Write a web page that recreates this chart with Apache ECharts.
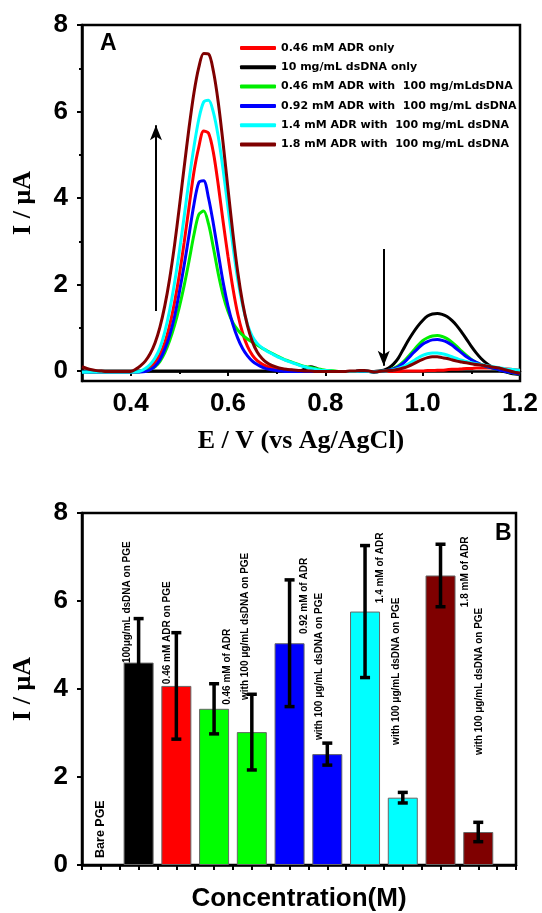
<!DOCTYPE html>
<html><head><meta charset="utf-8">
<script src="https://cdn.jsdelivr.net/npm/echarts@6/dist/echarts.min.js"></script>
<style>html,body{margin:0;padding:0;background:#fff}#c{width:542px;height:913px}</style>
</head><body><div id="c"></div>
<script>
// ---------- Panel A: DPV curves ----------
const potential = [0.30,0.31,0.32,0.33,0.34,0.35,0.36,0.37,0.38,0.39,
0.40,0.41,0.42,0.43,0.44,0.45,0.46,0.47,0.48,0.49,
0.50,0.51,0.52,0.53,0.54,0.55,0.56,0.57,0.58,0.59,
0.60,0.61,0.62,0.63,0.64,0.65,0.66,0.67,0.68,0.69,
0.70,0.71,0.72,0.73,0.74,0.75,0.76,0.77,0.78,0.79,
0.80,0.81,0.82,0.83,0.84,0.85,0.86,0.87,0.88,0.89,
0.90,0.91,0.92,0.93,0.94,0.95,0.96,0.97,0.98,0.99,
1.00,1.01,1.02,1.03,1.04,1.05,1.06,1.07,1.08,1.09,
1.10,1.11,1.12,1.13,1.14,1.15,1.16,1.17,1.18,1.19,
1.20];

const seriesNames = ['0.46 mM ADR only','10 mg/mL dsDNA only','0.46 mM ADR with  100 mg/mLdsDNA','0.92 mM ADR with  100 mg/mL dsDNA','1.4 mM ADR with  100 mg/mL dsDNA','1.8 mM ADR with  100 mg/mL dsDNA'];
const seriesColors = ['#ff0000','#000000','#00ee00','#0000ff','#00ffff','#7f0000'];

const adrOnly = [0.00,-0.01,-0.02,-0.02,-0.02,-0.02,-0.02,-0.02,-0.02,-0.02,
-0.02,-0.02,-0.01,0.03,0.09,0.20,0.38,0.65,1.05,1.58,
2.22,2.98,3.80,4.60,5.18,5.55,5.50,5.05,4.30,3.45,
2.65,1.92,1.32,0.88,0.57,0.37,0.24,0.16,0.11,0.08,
0.06,0.04,0.03,0.02,0.01,0.00,0.00,0.00,-0.01,-0.01,
-0.01,-0.01,-0.01,-0.01,-0.01,-0.01,-0.01,-0.01,-0.01,-0.01,
-0.01,-0.01,-0.01,-0.01,-0.01,-0.01,0.00,0.00,0.00,0.00,
0.00,0.01,0.01,0.02,0.02,0.03,0.04,0.04,0.05,0.06,
0.06,0.07,0.07,0.07,0.07,0.06,0.06,0.05,0.04,0.03,
0.02];
const dsdnaOnly = [0,0,0,0,0,0,0,0,0,0,
0,0,0,0,0,0,0,0,0,0,
0,0,0,0,0,0,0,0,0,0,
0,0,0,0,0,0,0,0,0,0,
0,0,0,0,0,0.01,0.06,0.10,0.07,0.02,
0,-0.01,-0.01,-0.01,-0.01,-0.01,-0.01,-0.01,-0.01,-0.01,
-0.01,0,0.02,0.07,0.16,0.30,0.50,0.70,0.88,1.04,
1.17,1.27,1.32,1.33,1.31,1.26,1.17,1.05,0.90,0.74,
0.57,0.42,0.29,0.19,0.11,0.05,0.01,-0.02,-0.05,-0.07,
-0.08];
const adr046Dna = [-0.02,-0.02,-0.02,-0.02,-0.02,-0.02,-0.02,-0.02,-0.02,-0.02,
-0.02,-0.02,-0.01,0.00,0.04,0.10,0.22,0.42,0.70,1.05,
1.48,1.98,2.55,3.15,3.62,3.70,3.40,2.85,2.25,1.75,
1.38,1.12,0.95,0.83,0.74,0.67,0.60,0.53,0.47,0.41,
0.35,0.30,0.25,0.21,0.17,0.13,0.10,0.08,0.06,0.04,
0.02,0.01,0.00,-0.01,-0.01,-0.01,-0.01,0.00,0.00,-0.01,
-0.02,-0.01,0.00,0.02,0.06,0.12,0.21,0.33,0.46,0.59,
0.70,0.77,0.81,0.82,0.80,0.75,0.67,0.57,0.46,0.36,
0.27,0.20,0.15,0.11,0.08,0.05,0.02,0.00,-0.03,-0.05,
-0.07];
const adr092Dna = [-0.02,-0.02,-0.02,-0.02,-0.02,-0.02,-0.02,-0.02,-0.02,-0.02,
-0.02,-0.02,-0.02,-0.01,0.03,0.11,0.26,0.50,0.82,1.25,
1.82,2.45,3.15,3.85,4.36,4.40,4.00,3.40,2.72,2.05,
1.50,1.08,0.76,0.52,0.35,0.23,0.15,0.09,0.05,0.03,
0.01,0.00,-0.01,-0.01,-0.01,-0.01,-0.01,-0.01,-0.01,-0.01,
-0.01,-0.01,-0.01,-0.01,-0.01,-0.01,-0.01,0.00,0.00,-0.01,
-0.02,-0.01,0.00,0.02,0.05,0.10,0.18,0.29,0.41,0.52,
0.62,0.68,0.72,0.73,0.71,0.67,0.60,0.51,0.42,0.33,
0.26,0.20,0.15,0.11,0.08,0.05,0.02,-0.01,-0.03,-0.05,
-0.07];
const adr14Dna = [-0.03,-0.02,-0.02,-0.02,-0.02,-0.02,-0.02,-0.02,-0.02,-0.02,
-0.02,-0.02,0.00,0.06,0.15,0.30,0.53,0.90,1.40,2.03,
2.76,3.58,4.42,5.18,5.82,6.22,6.26,5.98,5.42,4.65,
3.78,2.90,2.12,1.52,1.08,0.80,0.64,0.54,0.46,0.40,
0.34,0.29,0.24,0.20,0.16,0.12,0.09,0.06,0.04,0.02,
0.01,0.00,-0.01,-0.01,-0.01,-0.01,-0.01,0.00,0.00,-0.01,
-0.02,-0.01,0.00,0.01,0.03,0.06,0.10,0.16,0.23,0.30,
0.36,0.40,0.42,0.42,0.40,0.37,0.33,0.29,0.25,0.22,
0.19,0.17,0.15,0.13,0.11,0.09,0.07,0.05,0.04,0.03,
0.02];
const adr18Dna = [0.10,0.06,0.03,0.01,0.00,-0.01,-0.01,-0.01,-0.01,-0.01,
-0.01,0.04,0.12,0.23,0.40,0.65,1.01,1.50,2.13,2.90,
3.79,4.72,5.63,6.43,7.02,7.34,7.33,6.93,6.21,5.26,
4.21,3.19,2.29,1.58,1.05,0.68,0.44,0.29,0.19,0.13,
0.09,0.06,0.04,0.03,0.02,0.01,0.00,0.00,-0.01,-0.01,
-0.01,-0.01,-0.01,-0.01,-0.01,0.00,0.00,0.01,0.01,0.00,
-0.02,-0.01,0.00,0.01,0.02,0.04,0.07,0.11,0.16,0.22,
0.27,0.31,0.33,0.33,0.31,0.29,0.26,0.23,0.21,0.19,
0.17,0.15,0.14,0.12,0.10,0.08,0.06,0.03,0.00,-0.03,
-0.05];
const curves = [adrOnly, dsdnaOnly, adr046Dna, adr092Dna, adr14Dna, adr18Dna];

// arrows in panel A: [potential, from current, to current]
const arrowsA = [[0.452, 1.39, 5.68], [0.920, 2.82, 0.12]];
const ticksA_x = [0.4, 0.6, 0.8, 1.0, 1.2];
const minorA_x = [0.3, 0.5, 0.7, 0.9, 1.1];
const ticksA_y = [0, 2, 4, 6, 8];
const minorA_y = [1, 3, 5, 7];

// ---------- Panel B: bars ----------
const categories = ['Bare PGE','100μg/mL dsDNA on PGE','0.46 mM ADR on PGE','0.46 mM of ADR with 100 μg/mL dsDNA on PGE','0.92 mM of ADR','0.92 mM of ADR with 100 μg/mL dsDNA on PGE','1.4 mM of ADR','1.4 mM of ADR with 100 μg/mL dsDNA on PGE','1.8 mM of ADR','1.8 mM of ADR with 100 μg/mL dsDNA on PGE','extra'];
const barPositions = [1, 3, 5, 7, 9, 11, 13, 15, 17, 19, 21];
const barValues = [0, 4.60, 4.07, 3.55, 3.02, 5.04, 2.52, 5.76, 1.53, 6.58, 0.75];
const barErrors = [0, 1.00, 1.21, 0.57, 0.86, 1.44, 0.25, 1.50, 0.12, 0.71, 0.22];
const barColors = ['#ffffff','#000000','#ff0000','#00ff00','#00ff00','#0000ff','#0000ff','#00ffff','#00ffff','#7f0000','#7f0000'];

// bar annotation texts: [text, x anchor, y anchor (start of text)]
const barNotes = [
  ['Bare PGE', 1.0, 0.16],
  ['100μg/mL dsDNA on PGE', 2.39, 4.59],
  ['0.46 mM ADR on PGE', 4.50, 4.11],
  ['0.46 mM of ADR', 7.72, 3.64],
  ['with 100 μg/mL dsDNA on PGE', 8.64, 3.75],
  ['0.92 mM of ADR', 11.77, 5.25],
  ['with 100 μg/mL dsDNA on PGE', 12.59, 2.84],
  ['1.4 mM of ADR', 15.81, 5.95],
  ['with 100 μg/mL dsDNA on PGE', 16.64, 2.73],
  ['1.8 mM of ADR', 20.32, 5.86],
  ['with 100 μg/mL dsDNA on PGE', 21.05, 2.50]
];

const chart = echarts.init(document.getElementById('c'));
const axisLineStyle = {color:'#000', width:2.5};
const tickLabel = {color:'#000', fontFamily:'Liberation Sans', fontWeight:'bold', fontSize:26};
const serifName = {color:'#000', fontFamily:'Liberation Serif', fontWeight:'bold', fontSize:26};

const lineSeries = seriesNames.map((name, i) => ({
  name, type:'line', xAxisIndex:0, yAxisIndex:0,
  data: potential.map((e, j) => [e, curves[i][j]]),
  showSymbol:false, symbol:'none', smooth:0.3,
  lineStyle:{width:3, color:seriesColors[i]}, itemStyle:{color:seriesColors[i]},
  z: 3 + i, animation:false
}));
lineSeries[1].markLine = {
  silent:true, animation:false, symbol:['none','arrow'], symbolSize:[9,15],
  lineStyle:{color:'#000', width:2, type:'solid'}, label:{show:false},
  data: arrowsA.map(a => [{coord:[a[0], a[1]]}, {coord:[a[0], a[2]]}])
};

const option = {
  backgroundColor:'#fff',
  animation:false,
  title:[
    {text:'A', left:100, top:32, padding:0, textStyle:{fontSize:23, fontWeight:'bold', fontFamily:'Liberation Sans', color:'#000'}},
    {text:'B', left:495, top:522, padding:0, textStyle:{fontSize:23, fontWeight:'bold', fontFamily:'Liberation Sans', color:'#000'}}
  ],
  legend:{
    data:seriesNames, orient:'vertical', left:235, top:36, icon:'roundRect',
    itemWidth:36, itemHeight:4, itemGap:5.3, selectedMode:false,
    textStyle:{fontFamily:'DejaVu Sans', fontWeight:'bold', fontSize:11, color:'#000', lineHeight:14}
  },
  grid:[
    {left:82, top:25, width:438, height:356, show:true, borderColor:'#000', borderWidth:2.5, backgroundColor:'transparent'},
    {left:82, top:513, width:434, height:352, show:true, borderColor:'#000', borderWidth:2.5, backgroundColor:'transparent'}
  ],
  xAxis:[
    {gridIndex:0, type:'value', min:0.3, max:1.2,
     name:'E / V (vs Ag/AgCl)', nameLocation:'middle', nameGap:47, nameTextStyle:serifName,
     axisLine:{lineStyle:axisLineStyle}, splitLine:{show:false},
     axisTick:{customValues:ticksA_x, length:5, lineStyle:{width:2, color:'#000'}},
     axisLabel:{customValues:ticksA_x, margin:10, formatter:v => v.toFixed(1), ...tickLabel}},
    {gridIndex:0, type:'value', min:0.3, max:1.2, position:'bottom',
     axisLine:{show:false}, splitLine:{show:false}, axisLabel:{show:false},
     axisTick:{customValues:minorA_x, length:3, lineStyle:{width:2, color:'#000'}}},
    {gridIndex:1, type:'value', min:0, max:23, interval:1,
     name:'Concentration(M)', nameLocation:'middle', nameGap:21,
     nameTextStyle:{color:'#000', fontFamily:'Liberation Sans', fontWeight:'bold', fontSize:26},
     axisLine:{lineStyle:axisLineStyle}, splitLine:{show:false}, axisLabel:{show:false},
     axisTick:{length:5, lineStyle:{width:2, color:'#000'}}}
  ],
  yAxis:[
    {gridIndex:0, type:'value', min:-0.23, max:8,
     name:'I / μA', nameLocation:'middle', nameGap:46, nameTextStyle:serifName,
     axisLine:{lineStyle:axisLineStyle}, splitLine:{show:false},
     axisTick:{customValues:ticksA_y, length:5, lineStyle:{width:2, color:'#000'}},
     axisLabel:{customValues:ticksA_y, margin:14, ...tickLabel}},
    {gridIndex:0, type:'value', min:-0.23, max:8, position:'left',
     axisLine:{show:false}, splitLine:{show:false}, axisLabel:{show:false},
     axisTick:{customValues:minorA_y, length:3, lineStyle:{width:2, color:'#000'}}},
    {gridIndex:1, type:'value', min:0, max:8, interval:2,
     name:'I / μA', nameLocation:'middle', nameGap:46, nameTextStyle:serifName,
     axisLine:{lineStyle:axisLineStyle}, splitLine:{show:false},
     axisTick:{length:5, lineStyle:{width:2, color:'#000'}},
     axisLabel:{margin:14, ...tickLabel}}
  ],
  series:[
    ...lineSeries,
    {type:'bar', xAxisIndex:2, yAxisIndex:2, barWidth:30, z:2, silent:true,
     data: barPositions.map((x, i) => barValues[i] > 0 ? {value:[x, barValues[i]], itemStyle:{color:barColors[i], borderColor:'#666', borderWidth:1}} : null).filter(d => d)},
    {type:'custom', xAxisIndex:2, yAxisIndex:2, z:5, silent:true,
     data: barPositions.map((x, i) => [x, barValues[i] - barErrors[i], barValues[i] + barErrors[i]]).filter((d, i) => barErrors[i] > 0),
     encode:{x:0, y:[1,2]},
     renderItem:(params, api) => {
       const x = api.value(0);
       const lo = api.coord([x, api.value(1)]);
       const hi = api.coord([x, api.value(2)]);
       const w = 5, st = {stroke:'#000', lineWidth:3.5};
       return {type:'group', children:[
         {type:'line', shape:{x1:lo[0], y1:lo[1], x2:hi[0], y2:hi[1]}, style:st},
         {type:'line', shape:{x1:lo[0]-w, y1:lo[1], x2:lo[0]+w, y2:lo[1]}, style:st},
         {type:'line', shape:{x1:hi[0]-w, y1:hi[1], x2:hi[0]+w, y2:hi[1]}, style:st}
       ]};
     }},
    {type:'custom', xAxisIndex:2, yAxisIndex:2, z:6, silent:true,
     data: barNotes.map(n => [n[1], n[2]]),
     encode:{x:0, y:1},
     renderItem:(params, api) => {
       const p = api.coord([api.value(0), api.value(1)]);
       const note = barNotes[params.dataIndex];
       const size = params.dataIndex === 0 ? 12.5 : 10;
       return {type:'text', x:p[0], y:p[1], rotation:Math.PI/2,
         style:{text:note[0], fill:'#000', font:'bold ' + size + 'px "Liberation Sans"', align:'left', verticalAlign:'middle'}};
     }}
  ]
};
chart.setOption(option);
</script>
</body></html>
